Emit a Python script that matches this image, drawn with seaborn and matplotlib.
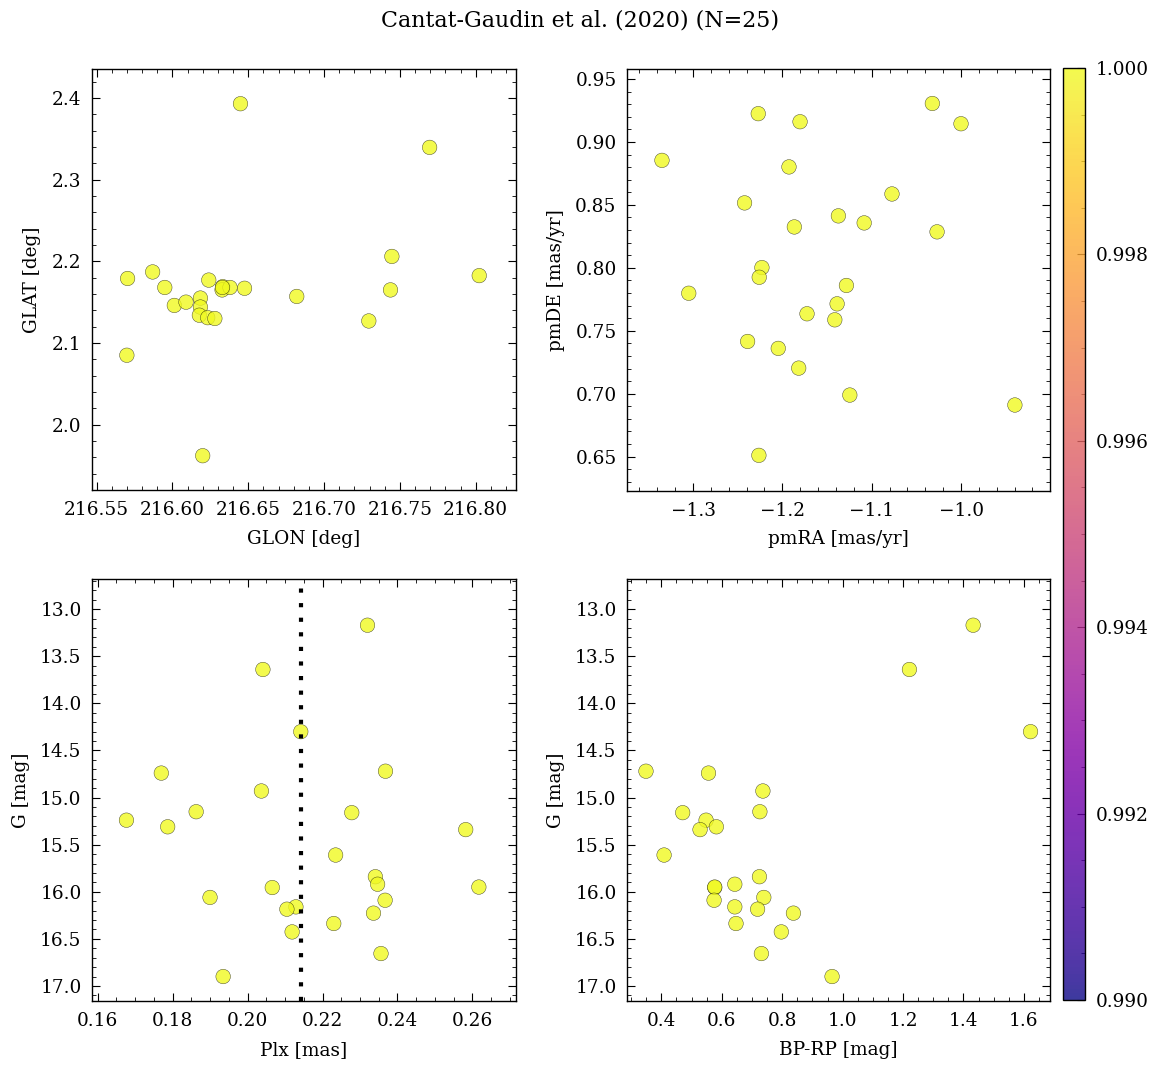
import numpy as np
import pandas as pd
import seaborn as sns
import matplotlib.pyplot as plt
from matplotlib.colors import Normalize
from matplotlib.cm import ScalarMappable

# member table (Cantat-Gaudin 2020, N=25)
glon = [216.5705, 216.587, 216.595, 216.6013, 216.609, 216.6185, 216.6185,
        216.6178, 216.6233, 216.628, 216.624, 216.6332, 216.6328, 216.638,
        216.6476, 216.6449, 216.620, 216.570, 216.682, 216.7295, 216.7447,
        216.7438, 216.7696, 216.8023, 216.6330]
glat = [2.179, 2.187, 2.168, 2.146, 2.150, 2.155, 2.144,
        2.134, 2.131, 2.130, 2.177, 2.169, 2.165, 2.168,
        2.167, 2.393, 1.962, 2.085, 2.157, 2.127, 2.206,
        2.165, 2.3395, 2.1825, 2.168]

pmra = [-1.3348, -1.227, -1.1802, -1.0321, -1.000, -1.1926, -1.2423,
        -1.0773, -1.1373, -1.1084, -1.1866, -1.0268, -1.2229, -1.2259,
        -1.3048, -1.1283, -1.1387, -1.1724, -1.1413, -1.2389, -1.2046,
        -1.1817, -1.1245, -0.9397, -1.2263]
pmde = [0.8854, 0.9225, 0.9161, 0.9306, 0.9145, 0.8802, 0.8516,
        0.8587, 0.8413, 0.8357, 0.8325, 0.8286, 0.8002, 0.7925,
        0.7798, 0.7860, 0.7714, 0.7635, 0.7587, 0.7415, 0.7360,
        0.7203, 0.6989, 0.6910, 0.6510]

gmag = [13.17, 13.64, 14.30, 14.72, 14.74, 14.93, 15.15, 15.16, 15.24,
        15.31, 15.34, 15.61, 15.84, 15.92, 15.955, 15.95, 16.06, 16.09,
        16.16, 16.185, 16.227, 16.337, 16.426, 16.656, 16.90]
plx = [0.2320, 0.2041, 0.2142, 0.2368, 0.1770, 0.2037, 0.1863, 0.2278, 0.1677,
       0.1787, 0.2582, 0.2235, 0.2341, 0.2347, 0.2066, 0.2617, 0.1900, 0.2367,
       0.2129, 0.2105, 0.2336, 0.2230, 0.2119, 0.2356, 0.1935]
bprp = [1.432, 1.221, 1.622, 0.349, 0.556, 0.736, 0.726, 0.4705, 0.548,
        0.582, 0.528, 0.409, 0.7245, 0.643, 0.5765, 0.5765, 0.739, 0.5745,
        0.643, 0.7185, 0.837, 0.647, 0.797, 0.731, 0.965]

proba = [1.0, 1.0, 1.0, 1.0, 1.0, 1.0, 1.0, 1.0, 1.0, 1.0, 1.0, 1.0, 1.0,
         1.0, 1.0, 1.0, 1.0, 1.0, 1.0, 1.0, 1.0, 1.0, 1.0, 1.0, 1.0]

plx_mean = 0.2142
title = 'Cantat-Gaudin et al. (2020) (N=25)'

sns.set_style('ticks')
plt.rcParams.update({
    'font.family': 'serif',
    'font.serif': ['DejaVu Serif'],
    'font.size': 13.3,
    'text.color': 'black',
    'axes.labelcolor': 'black',
    'axes.edgecolor': 'black',
    'xtick.color': 'black',
    'ytick.color': 'black',
    'xtick.direction': 'in',
    'ytick.direction': 'in',
    'xtick.top': True,
    'ytick.right': True,
    'xtick.minor.visible': True,
    'ytick.minor.visible': True,
    'xtick.major.size': 6,
    'ytick.major.size': 6,
    'xtick.minor.size': 3,
    'ytick.minor.size': 3,
    'xtick.major.pad': 8,
    'ytick.major.pad': 7.5,
    'axes.linewidth': 1.0,
    'axes.labelpad': 7.5,
})

df = pd.DataFrame({'GLON': glon, 'GLAT': glat, 'pmRA': pmra, 'pmDE': pmde,
                   'Plx': plx, 'G': gmag, 'BP-RP': bprp, 'proba': proba})

fig = plt.figure(figsize=(11.61, 10.68), dpi=100)
ax1 = fig.add_axes([0.0792, 0.5412, 0.3652, 0.3942])
ax2 = fig.add_axes([0.5400, 0.5403, 0.3643, 0.3951])
ax3 = fig.add_axes([0.0792, 0.0627, 0.3652, 0.3951])
ax4 = fig.add_axes([0.5400, 0.0627, 0.3643, 0.3951])
cax = fig.add_axes([0.9156, 0.0637, 0.0190, 0.8727])

kw = dict(hue='proba', palette='plasma', hue_norm=(0.99, 1.0), legend=False,
          s=110, alpha=0.8, edgecolor='k', linewidth=0.3)

sns.scatterplot(data=df, x='GLON', y='GLAT', ax=ax1, **kw)
ax1.set_xlim(216.547, 216.8265)
ax1.set_ylim(1.920, 2.4355)
ax1.set_xlabel('GLON [deg]')
ax1.set_ylabel('GLAT [deg]')

sns.scatterplot(data=df, x='pmRA', y='pmDE', ax=ax2, **kw)
ax2.set_xlim(-1.374, -0.9005)
ax2.set_ylim(0.6227, 0.958)
ax2.set_xlabel('pmRA [mas/yr]')
ax2.set_ylabel('pmDE [mas/yr]')

sns.scatterplot(data=df, x='Plx', y='G', ax=ax3, **kw)
ax3.axvline(plx_mean, color='k', lw=3, ls=(0, (1, 2.5)))
ax3.set_xlim(0.1585, 0.2716)
ax3.set_ylim(17.16, 12.68)
ax3.set_xlabel('Plx [mas]')
ax3.set_ylabel('G [mag]')

sns.scatterplot(data=df, x='BP-RP', y='G', ax=ax4, **kw)
ax4.set_xlim(0.286, 1.686)
ax4.set_ylim(17.16, 12.68)
ax4.set_xlabel('BP-RP [mag]')
ax4.set_ylabel('G [mag]')

sm = ScalarMappable(norm=Normalize(0.99, 1.0), cmap='plasma')
cb = fig.colorbar(sm, cax=cax, alpha=0.8)
cb.set_ticks([0.990, 0.992, 0.994, 0.996, 0.998, 1.000])
cb.ax.yaxis.set_major_formatter(plt.FormatStrFormatter('%.3f'))
cb.ax.minorticks_on()
cb.ax.tick_params(which='both', direction='in')

fig.suptitle(title, y=0.991, va='top')

fig.savefig('out.png', dpi=100)
